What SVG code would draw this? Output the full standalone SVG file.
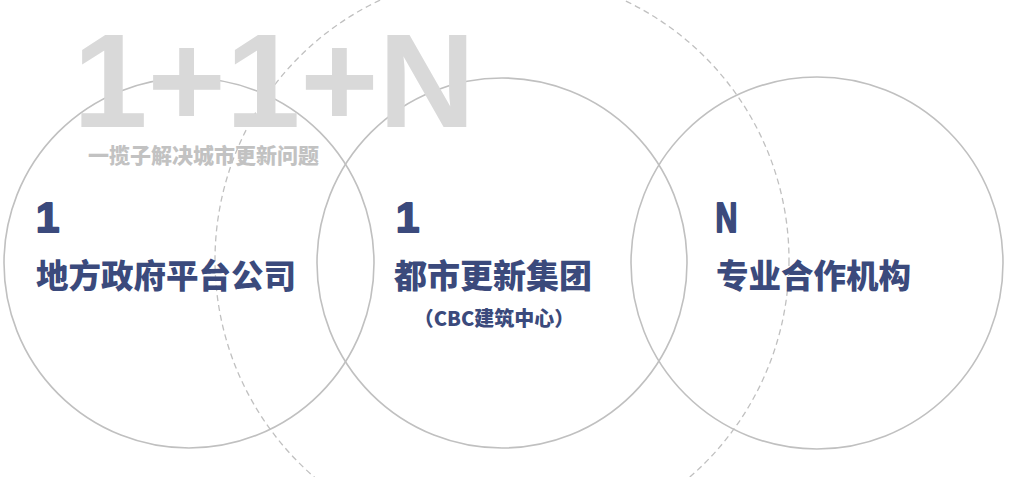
<svg xmlns="http://www.w3.org/2000/svg" width="1011" height="477" viewBox="0 0 1011 477">
  <style>
    .ring { fill: none; stroke: #c0c0c0; stroke-width: 1.6; }
    .dash { fill: none; stroke: #c0c0c0; stroke-width: 1.3; stroke-dasharray: 6 4; }
    .num { font-family: "Liberation Sans", Arial, sans-serif; font-weight: 700; fill: #3b4a7c; stroke: #3b4a7c; stroke-width: 2; stroke-linejoin: round; }
    .cjk { font-family: "Noto Sans CJK SC", "Noto Sans", sans-serif; font-weight: 900; fill: #3b4a7c; }
    .big { font-family: "Liberation Sans", Arial, sans-serif; font-weight: 700; fill: #d9d9d9; }
    .sub { font-family: "Noto Sans CJK SC", sans-serif; font-weight: 900; fill: #c2c2c2; }
  </style>
  <rect width="1011" height="477" fill="#ffffff"/>
  <g id="connectors">
    <circle class="dash" cx="502" cy="260" r="287"/>
  </g>
  <g id="node-local-gov">
    <circle class="ring" cx="189" cy="263" r="185"/>
  </g>
  <g id="node-urban-renewal">
    <circle class="ring" cx="502" cy="263" r="185"/>
  </g>
  <g id="node-partners">
    <circle class="ring" cx="817" cy="263" r="186"/>
  </g>
  <g id="title">
    <text class="big" x="73" y="127" font-size="134">1+1+N</text>
    <text class="sub" x="88" y="163" font-size="21">一揽子解决城市更新问题</text>
  </g>
  <g id="label-local-gov">
    <text class="num" x="36" y="232" font-size="42">1</text>
    <text class="cjk" x="36" y="288" font-size="32.5">地方政府平台公司</text>
  </g>
  <g id="label-urban-renewal">
    <text class="num" x="396" y="232" font-size="42">1</text>
    <text class="cjk" x="394" y="288" font-size="33">都市更新集团</text>
    <text class="cjk" x="494" y="326" font-size="20" text-anchor="middle">（CBC建筑中心）</text>
  </g>
  <g id="label-partners">
    <text class="num" transform="translate(717,232) scale(0.72,1)" x="-2" y="0" font-size="42">N</text>
    <text class="cjk" x="716" y="288" font-size="32.5">专业合作机构</text>
  </g>
</svg>
